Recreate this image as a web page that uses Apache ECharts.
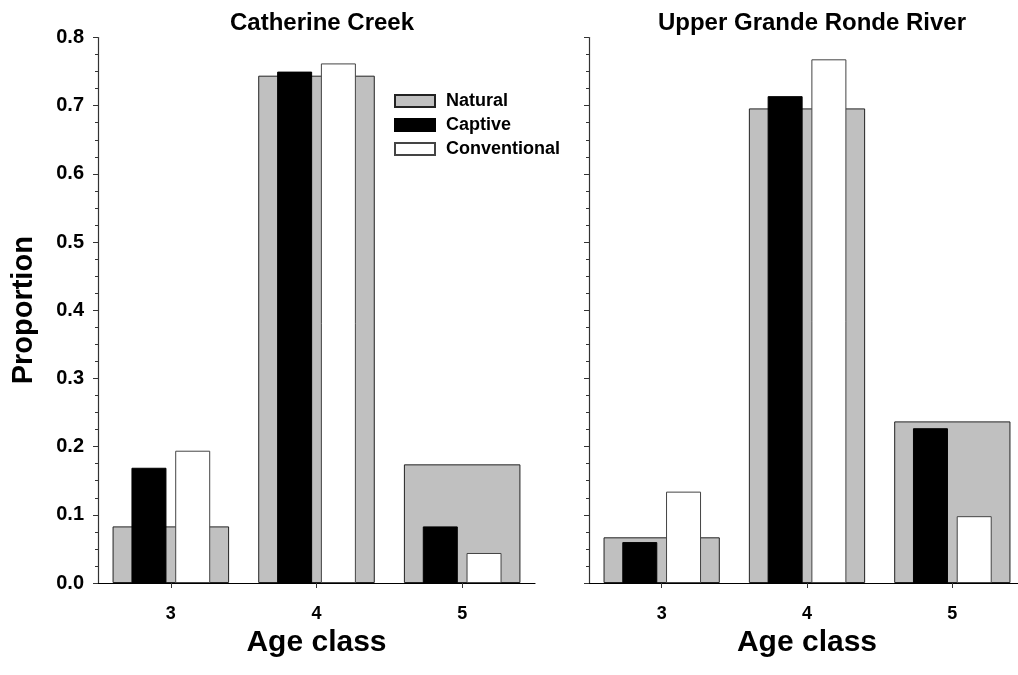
<!DOCTYPE html>
<html>
<head>
<meta charset="utf-8">
<script src="https://cdn.jsdelivr.net/npm/echarts@6/dist/echarts.min.js"></script>
<style>html,body{margin:0;padding:0;background:#fff}#c{width:1018px;height:675px}</style>
</head>
<body>
<div id="c"></div>
<script>
const categories = ['3', '4', '5'];
const panelTitles = ['Catherine Creek', 'Upper Grande Ronde River'];
const seriesNames = ['Natural', 'Captive', 'Conventional'];
const ccNatural = [0.083, 0.744, 0.174];
const ccCaptive = [0.169, 0.750, 0.083];
const ccConventional = [0.194, 0.762, 0.044];
const ugrNatural = [0.067, 0.696, 0.237];
const ugrCaptive = [0.060, 0.714, 0.227];
const ugrConventional = [0.134, 0.768, 0.098];
const yMin = 0, yMax = 0.8, yStep = 0.1;

const FONT = "'Liberation Sans', Arial, sans-serif";
const chart = echarts.init(document.getElementById('c'), null, {renderer: 'canvas'});

const grids = [
  {left: 98, top: 37.5, width: 437, height: 545.5, outerBoundsMode: 'none', containLabel: false},
  {left: 589, top: 37.5, width: 436, height: 545.5, outerBoundsMode: 'none', containLabel: false}
];

function mainX(gi) {
  return {
    type: 'category', gridIndex: gi, data: categories,
    axisLine: {show: true, lineStyle: {color: '#000', width: 1.2}},
    axisTick: {show: true, alignWithLabel: true, length: 5, lineStyle: {color: '#333'}},
    axisLabel: {color: '#000', fontSize: 18, fontWeight: 'bold', fontFamily: FONT, margin: 22},
    splitLine: {show: false},
    name: 'Age class', nameLocation: 'middle', nameGap: 34,
    nameTextStyle: {color: '#000', fontSize: 30, fontWeight: 'bold', fontFamily: FONT}
  };
}
function overlayX(gi) {
  return {type: 'category', gridIndex: gi, data: categories, show: false};
}
function yAx(gi, showLabels) {
  const a = {
    type: 'value', gridIndex: gi, min: yMin, max: yMax, interval: yStep,
    axisLine: {show: true, lineStyle: {color: '#333', width: 1.2}},
    axisTick: {show: true, length: 5, inside: false, lineStyle: {color: '#333'}},
    minorTick: {show: true, splitNumber: 4, length: 3, lineStyle: {color: '#333'}},
    splitLine: {show: false},
    axisLabel: {show: showLabels, color: '#000', fontSize: 20, fontWeight: 'bold', fontFamily: FONT, margin: 14,
      formatter: v => v.toFixed(1)}
  };
  if (showLabels) {
    a.name = 'Proportion';
    a.nameLocation = 'middle';
    a.nameGap = 60;
    a.nameRotate = 90;
    a.nameTextStyle = {color: '#000', fontSize: 29, fontWeight: 'bold', fontFamily: FONT};
  }
  return a;
}

const styles = {
  Natural: {color: '#c0c0c0', borderColor: '#222', borderWidth: 1},
  Captive: {color: '#000', borderColor: '#000', borderWidth: 1},
  Conventional: {color: '#fff', borderColor: '#444', borderWidth: 1}
};

function panelSeries(gi, nat, cap, conv) {
  const xBase = gi * 2;
  return [
    {name: 'Natural', type: 'bar', xAxisIndex: xBase, yAxisIndex: gi, data: nat, barWidth: '80%',
      itemStyle: styles.Natural, z: 2, silent: true},
    {name: 'Captive', type: 'bar', xAxisIndex: xBase + 1, yAxisIndex: gi, data: cap, barWidth: 35, barGap: '25%',
      itemStyle: styles.Captive, z: 3, silent: true},
    {name: 'Conventional', type: 'bar', xAxisIndex: xBase + 1, yAxisIndex: gi, data: conv, barWidth: 35, barGap: '25%',
      itemStyle: styles.Conventional, z: 3, silent: true}
  ];
}

chart.setOption({
  backgroundColor: '#fff',
  animation: false,
  title: [
    {text: panelTitles[0], left: 317, top: 6, textAlign: 'center',
      textStyle: {fontSize: 24, fontWeight: 'bold', color: '#000', fontFamily: FONT}},
    {text: panelTitles[1], left: 807, top: 6, textAlign: 'center',
      textStyle: {fontSize: 24, fontWeight: 'bold', color: '#000', fontFamily: FONT}}
  ],
  legend: {
    data: seriesNames, orient: 'vertical', left: 394, top: 92, padding: 0, itemWidth: 40, itemHeight: 12, itemGap: 6,
    icon: 'rect', selectedMode: false,
    textStyle: {fontSize: 18, fontWeight: 'bold', color: '#000', fontFamily: FONT, padding: [0, 0, 0, 6]}
  },
  grid: grids,
  xAxis: [mainX(0), overlayX(0), mainX(1), overlayX(1)],
  yAxis: [yAx(0, true), yAx(1, false)],
  series: [].concat(
    panelSeries(0, ccNatural, ccCaptive, ccConventional),
    panelSeries(1, ugrNatural, ugrCaptive, ugrConventional)
  )
});
</script>
</body>
</html>
